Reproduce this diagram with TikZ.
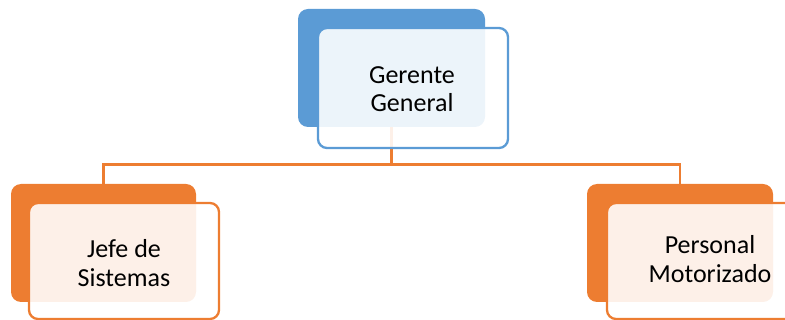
\documentclass[tikz,border=0pt]{standalone}
\usepackage{fontspec}
\setmainfont{Carlito}
\definecolor{accblue}{HTML}{5B9BD5}
\definecolor{accorange}{HTML}{ED7D31}
\begin{document}
\begin{tikzpicture}[x=1pt,y=-1pt,
  backbox/.style={rectangle,rounded corners=10pt,inner sep=0pt,draw=none,
    minimum width=186pt,minimum height=118pt},
  frontbox/.style={rectangle,rounded corners=9pt,inner sep=0pt,line width=2.3pt,
    fill=white,fill opacity=0.89,minimum width=190pt,minimum height=118pt},
  label/.style={align=center,font=\fontsize{26}{28.5}\selectfont,text=black},
  link/.style={draw=accorange,line width=2.5pt}]
  \useasboundingbox (0,0) rectangle (785,320);
  \clip (0,0) rectangle (785,320);

  % top level
  \node[backbox,fill=accblue,minimum width=187pt] (pb) at (391.5,68) {};
  % hub of the tree connectors
  \coordinate (hub) at (391.5,164.5);
  \draw[link] (pb.south) -- (hub);
  \node[frontbox,draw=accblue,minimum height=120pt] (pf) at (413,88) {};
  \node[label] (pt) at (412,89) {Gerente\\General};

  % second level
  \node[backbox,fill=accorange,minimum width=185pt] (lb) at (103.5,243) {};
  \node[backbox,fill=accorange] (rb) at (680,243) {};
  \draw[link] (lb.north) |- (hub) -| (rb.north);

  \node[frontbox,draw=accorange,minimum height=116pt] (lf) at (124,261) {};
  \node[label] (lt) at (124,263) {Jefe de\\Sistemas};

  \node[frontbox,draw=accorange,minimum height=116pt] (rf) at (702,261) {};
  \node[label] (rt) at (710,259) {Personal\\Motorizado};
\end{tikzpicture}
\end{document}
